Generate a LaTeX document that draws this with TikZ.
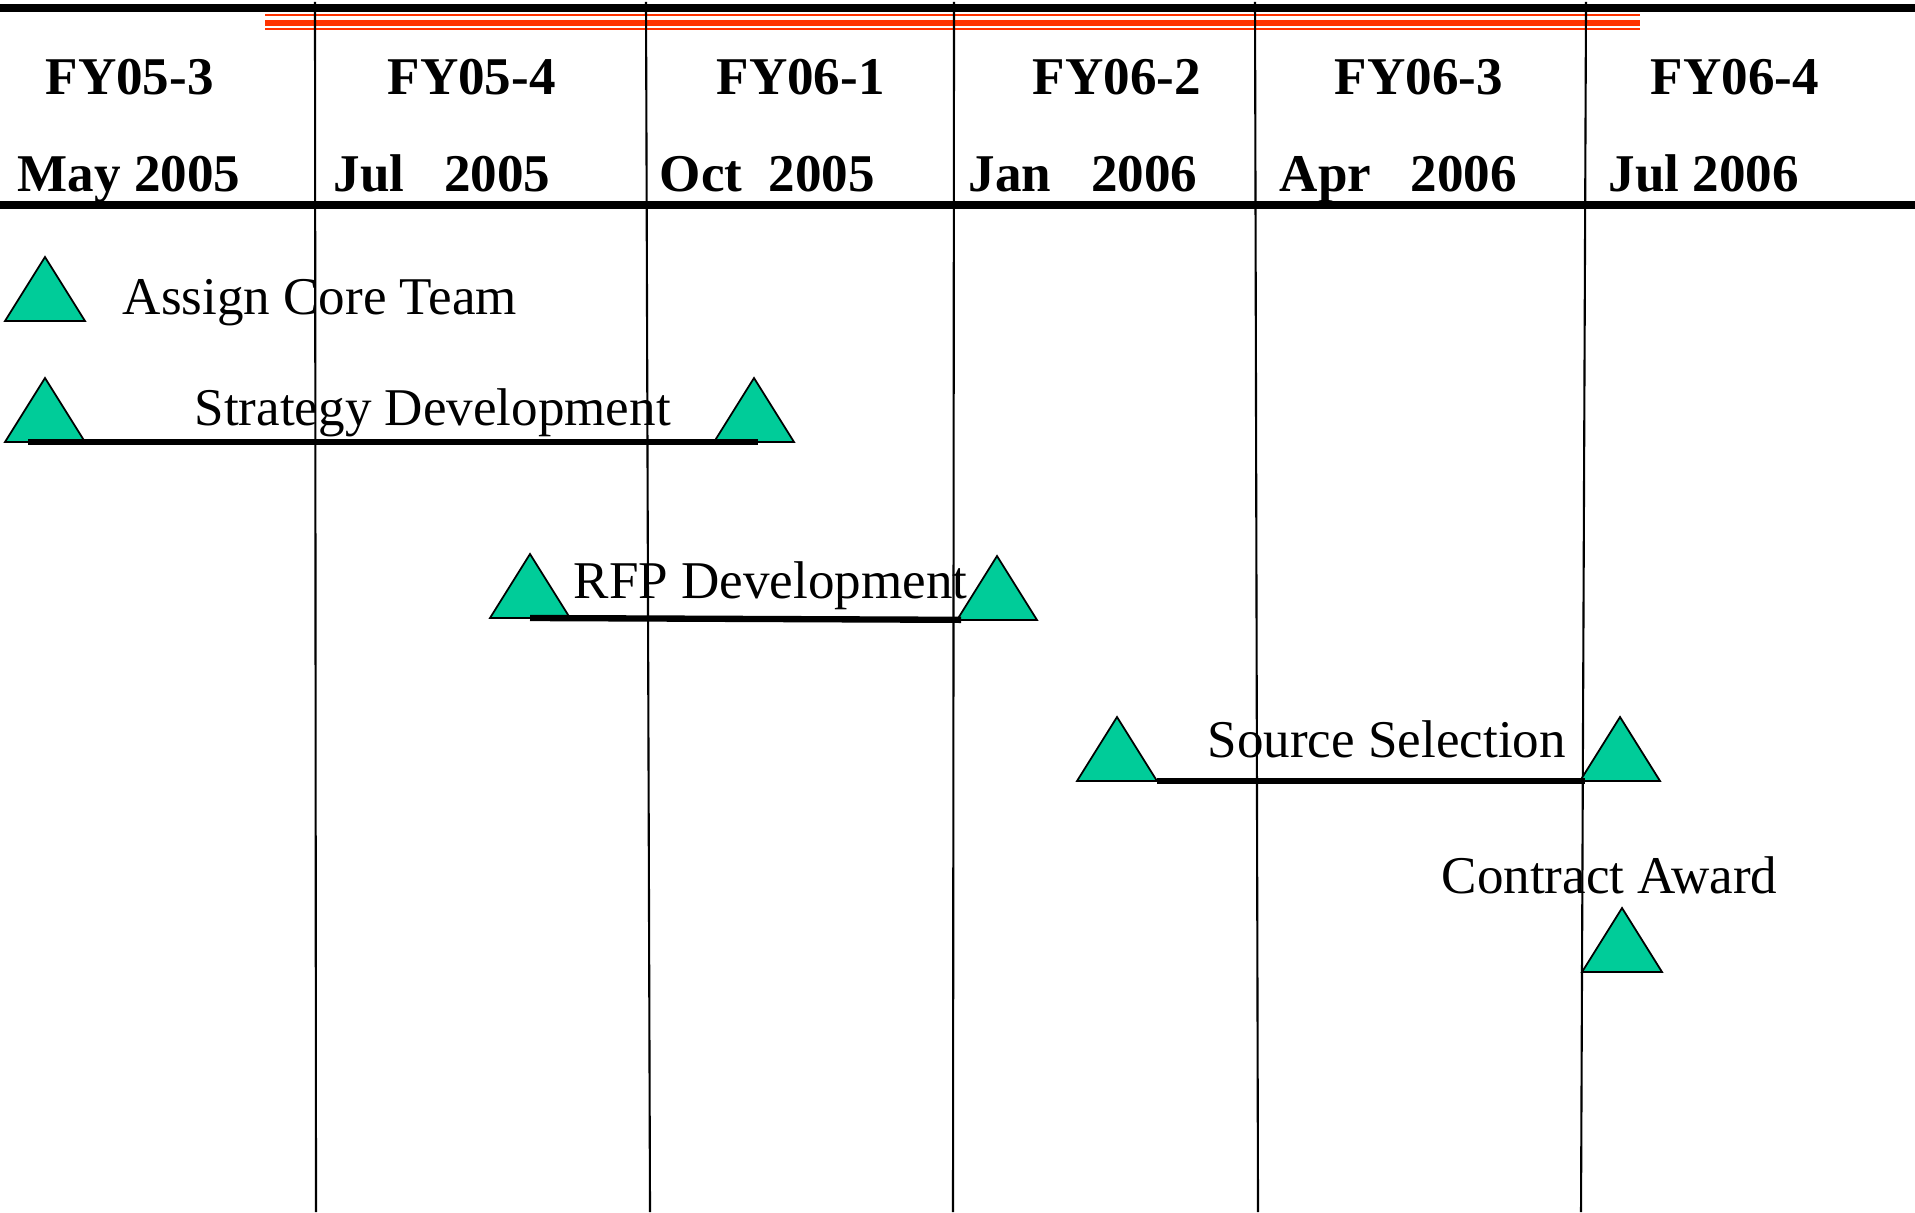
\documentclass[tikz,border=0pt]{standalone}
\usepackage{fontspec}
\setmainfont{Liberation Serif}
\usetikzlibrary{shapes.geometric}
\definecolor{msgreen}{RGB}{0,204,153}
\definecolor{barred}{RGB}{255,51,0}

\begin{document}
\begin{tikzpicture}[
    milestone/.style = {isosceles triangle, shape border rotate=90,
      isosceles triangle stretches, minimum width=0.8cm, minimum height=0.64cm,
      inner sep=0pt, outer sep=0pt, draw, line width=0.5pt, fill=msgreen, anchor=south},
    head/.style = {anchor=base west, inner sep=0pt, font=\fontsize{15.1}{18}\selectfont\bfseries},
    task/.style = {anchor=base west, inner sep=0pt, font=\fontsize{15.1}{18}\selectfont},
    taskbar/.style = {line width=1.8pt}
  ]
    \useasboundingbox (0,0) rectangle (19.15,12.12);
    % header rules
    \draw [line width=2.2pt] (0,12.04) -- (19.15,12.04);
    \draw [barred, line width=0.6pt] (2.65,11.97) -- (16.40,11.97);
    \draw [barred, line width=1.7pt] (2.65,11.89) -- (16.40,11.89);
    \draw [barred, line width=0.8pt] (2.65,11.83) -- (16.40,11.83);
    \draw [line width=2.1pt] (0,10.07) -- (19.15,10.07);
    % quarter lines
    \foreach \xt/\xb in {3.15/3.16, 6.46/6.50, 9.54/9.53, 12.55/12.58, 15.86/15.81} {
      \draw [line width=0.6pt] (\xt,12.10) -- (\xb,0);
    }
    % quarters and months
    \foreach \n/\x/\q/\xd/\d in {1/0.45/FY05-3/0.17/May 2005,
                                 2/3.87/FY05-4/3.33/Jul~~~2005,
                                 3/7.16/FY06-1/6.59/Oct~~2005,
                                 4/10.32/FY06-2/9.68/Jan~~~2006,
                                 5/13.34/FY06-3/12.79/Apr~~~2006,
                                 6/16.50/FY06-4/16.08/Jul 2006} {
      \node [head] (q\n) at (\x,11.17) {\q};
      \node [head] (m\n) at (\xd,10.20) {\d};
    }

    \node [task] (core) at (1.22,8.97) {Assign Core Team};
    \node [milestone] (core1) at (0.45,8.91) {};

    \node [task] (strat) at (1.94,7.86) {Strategy Development};
    \node [milestone] (strat1) at (0.45,7.70) {};
    \node [milestone] (strat2) at (7.54,7.70) {};
    \draw [taskbar, shorten <=-0.17cm, shorten >=-0.04cm] (strat1.south) -- (strat2.south);

    \node [task] (rfp) at (5.73,6.14) {RFP Development};
    \node [milestone] (rfp1) at (5.30,5.94) {};
    \node [milestone] (rfp2) at (9.97,5.92) {};
    \draw [taskbar, shorten >=0.36cm] (rfp1.south) -- (rfp2.south);

    \node [task] (src) at (12.07,4.55) {Source Selection};
    \node [milestone] (src1) at (11.17,4.31) {};
    \node [milestone] (src2) at (16.20,4.31) {};
    \draw [taskbar, shorten <=0.4cm, shorten >=0.35cm] (src1.south) -- (src2.south);

    \node [task] (award) at (14.41,3.19) {Contract Award};
    \node [milestone] (award1) at (16.22,2.40) {};
\end{tikzpicture}
\end{document}
